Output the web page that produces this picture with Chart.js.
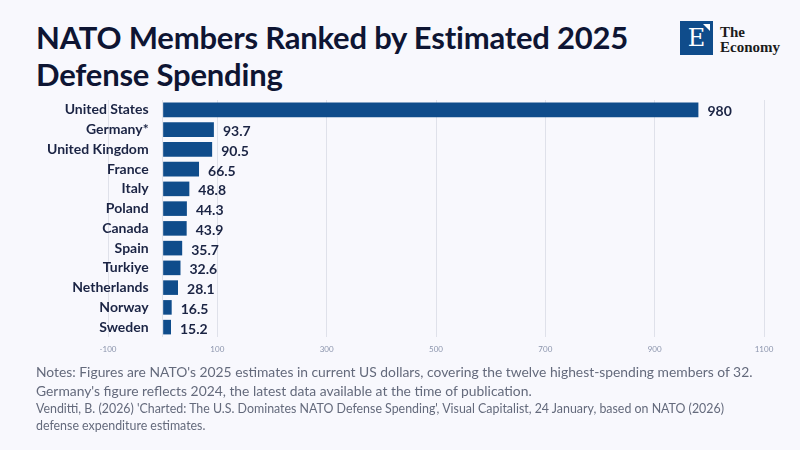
<!DOCTYPE html>
<html>
<head>
<meta charset="utf-8">
<script src="https://cdn.jsdelivr.net/npm/chart.js@4"></script>
<style>
  html, body { margin: 0; padding: 0; }
  body { width: 800px; height: 450px; background: #f8f8fd; position: relative; overflow: hidden; font-family: Lato, "Noto Sans", sans-serif; }
  #title { position: absolute; left: 36px; top: 19px; font-size: 31px; line-height: 37px; font-weight: 700; color: #0e1533; letter-spacing: -0.2px; }
  #logo { position: absolute; left: 680px; top: 21px; }
  #logo .box { position: absolute; left: 0; top: 0; width: 33px; height: 34px; background: #0f4c8b; color: #fff; font-family: "DejaVu Serif", serif; font-size: 24px; line-height: 34px; text-align: center; }
  #logo .corner { position: absolute; right: 3px; top: 3px; width: 0; height: 0; border-top: 7px solid #fff; border-left: 7px solid transparent; }
  #logo .txt { position: absolute; left: 40px; top: 4px; font-family: "Liberation Serif", serif; font-size: 15px; line-height: 15px; color: #1b1b1b; font-weight: 700; white-space: nowrap; }
  #wrap { position: absolute; left: 0; top: 0; width: 800px; height: 450px; }
  #notes { position: absolute; left: 36px; top: 362px; font-size: 13.85px; line-height: 19px; color: #646a7c; width: 760px; white-space: nowrap; }
  #source { position: absolute; left: 36px; top: 400px; font-size: 12.4px; line-height: 17px; color: #646a7c; width: 760px; white-space: nowrap; }
</style>
</head>
<body>
<div id="title">NATO Members Ranked by Estimated 2025<br>Defense Spending</div>
<div id="logo"><div class="box">E<div class="corner"></div></div><div class="txt">The<br>Economy</div></div>
<div id="wrap"><canvas id="chart"></canvas></div>
<div id="notes">Notes: Figures are NATO's 2025 estimates in current US dollars, covering the twelve highest-spending members of 32.<br>Germany's figure reflects 2024, the latest data available at the time of publication.</div>
<div id="source">Venditti, B. (2026) 'Charted: The U.S. Dominates NATO Defense Spending', Visual Capitalist, 24 January, based on NATO (2026)<br>defense expenditure estimates.</div>
<script>
const countries = ["United States", "Germany*", "United Kingdom", "France", "Italy", "Poland",
                   "Canada", "Spain", "Turkiye", "Netherlands", "Norway", "Sweden"];
const spending = [980, 93.7, 90.5, 66.5, 48.8, 44.3, 43.9, 35.7, 32.6, 28.1, 16.5, 15.2];
const spendingLabels = ["980", "93.7", "90.5", "66.5", "48.8", "44.3", "43.9", "35.7", "32.6", "28.1", "16.5", "15.2"];
const axisMin = -100;
const axisMax = 1100;
const axisStep = 200;

// writes the value just past the end of each bar
const valueLabels = {
    id: 'valueLabels',
    afterDatasetsDraw(chart) {
        const ctx = chart.ctx;
        const meta = chart.getDatasetMeta(0);
        ctx.save();
        ctx.font = '700 14px Lato, "Noto Sans", sans-serif';
        ctx.fillStyle = '#1b2444';
        ctx.textAlign = 'left';
        ctx.textBaseline = 'middle';
        meta.data.forEach((bar, i) => {
            ctx.fillText(spendingLabels[i], bar.x + 9, bar.y + 2);
        });
        ctx.restore();
    }
};

new Chart(document.getElementById('chart'), {
    type: 'bar',
    data: {
        labels: countries,
        datasets: [{
            data: spending,
            backgroundColor: '#0f4c8b',
            borderWidth: 0,
            barPercentage: 0.82,
            categoryPercentage: 0.9
        }]
    },
    options: {
        indexAxis: 'y',
        responsive: true,
        maintainAspectRatio: false,
        animation: false,
        layout: { padding: { top: 100, right: 36, bottom: 88, left: 0 } },
        plugins: {
            legend: { display: false },
            tooltip: { enabled: false }
        },
        scales: {
            x: {
                min: axisMin,
                max: axisMax,
                border: { display: false },
                grid: { color: '#dfe1ea', drawTicks: false },
                afterBuildTicks: scale => {
                    // a zero line as well as the -100, 100, 300 ... ticks
                    scale.ticks.push({ value: 0 });
                    scale.ticks.sort((a, b) => a.value - b.value);
                },
                afterFit: scale => { scale.height = 25; },
                ticks: {
                    stepSize: axisStep,
                    autoSkip: false,
                    maxRotation: 0,
                    padding: 8,
                    color: '#8c95ad',
                    font: { family: 'Lato', size: 8 },
                    callback: value => value === 0 ? '' : value
                }
            },
            y: {
                border: { display: false },
                grid: { display: false, drawTicks: false },
                afterFit: scale => { scale.width = 108; },
                ticks: {
                    mirror: true,
                    crossAlign: 'far',
                    autoSkip: false,
                    padding: -61,
                    color: '#1b2444',
                    font: { family: 'Lato', size: 14, weight: '700' }
                }
            }
        }
    },
    plugins: [valueLabels]
});
</script>
</body>
</html>
